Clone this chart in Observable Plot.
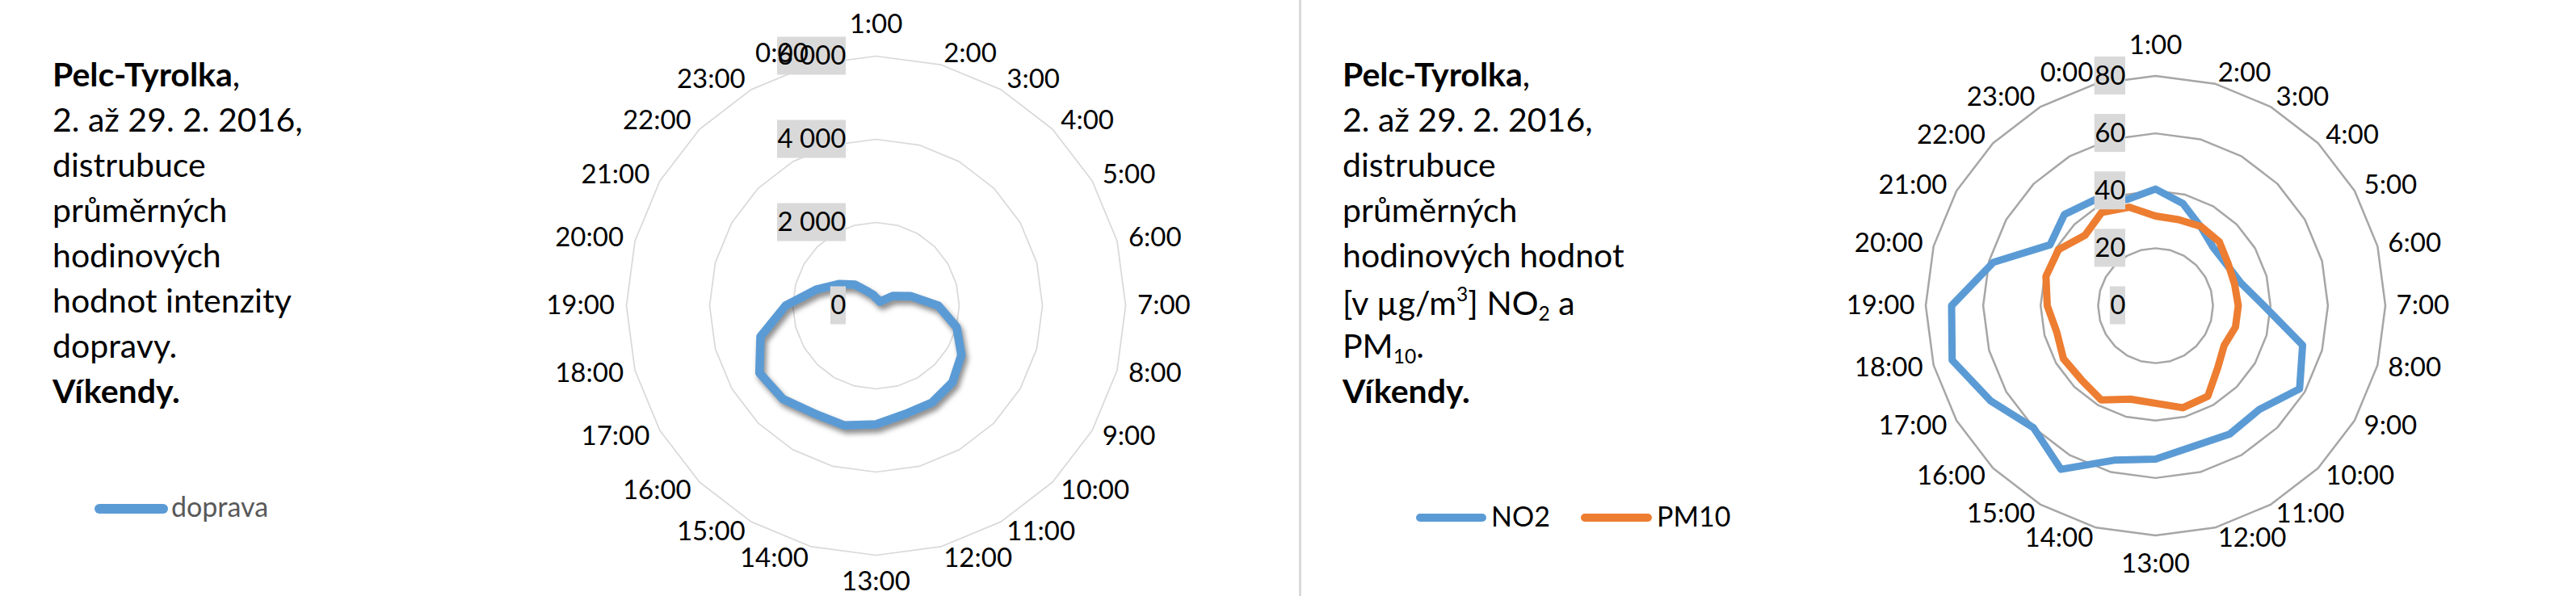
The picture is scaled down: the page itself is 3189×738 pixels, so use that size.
<!DOCTYPE html>
<html><head><meta charset="utf-8">
<script src="https://cdn.jsdelivr.net/npm/d3@7"></script>
<script src="https://cdn.jsdelivr.net/npm/@observablehq/plot@0.6"></script>
<style>
html,body{margin:0;padding:0;background:#fff;}
#page{position:relative;width:3189px;height:738px;overflow:hidden;font-family:Lato,sans-serif;color:#000;background:#fff;}
.blk{position:absolute;left:0;top:0;font-size:41px;}
.ln{position:absolute;white-space:nowrap;line-height:1.2;}
.sup{font-size:0.6em;position:relative;top:-0.7em;}
.sub{font-size:0.6em;position:relative;top:0.3em;}
.chart{position:absolute;top:0;width:900px;height:738px;}
.leg{position:absolute;white-space:nowrap;line-height:1.2;}
.sw{position:absolute;border-radius:99px;}
#divider{position:absolute;left:1608px;top:0;width:3px;height:738px;background:#d9d9d9;}
</style></head>
<body><div id="page">
<div id="divider"></div>
<div id="chart1" class="chart" style="left:634.2px"></div>
<div id="chart2" class="chart" style="left:2217.7px"></div>
</div>
<script>
// ---- data ----
const hours = ["1:00","2:00","3:00","4:00","5:00","6:00","7:00","8:00","9:00","10:00","11:00","12:00","13:00","14:00","15:00","16:00","17:00","18:00","19:00","20:00","21:00","22:00","23:00","0:00"];
const doprava = [188,160,142,136,466,874,1495,2006,2370,2600,2690,2700,2853,2978,2990,3170,3236,2875,2174,1488,1035,712,388,272];
const no2 = [40.6,36.8,31.6,28.5,28.6,30.7,37.7,53,57.9,51.1,51.6,50.7,53.4,55.7,65.8,60.1,66.3,73.3,71,58.4,42.4,44.9,42.5,38.3];
const pm10 = [31.2,31,31.8,31.4,29.2,28.5,28.8,28.8,27.6,30.6,36.4,36.8,34,33.7,37.9,36.5,37,35.6,37.7,39.5,39,34.7,37.5,35.5];
const ticks1 = [0,2000,4000,6000];
const tickLabels1 = ["0","2 000","4 000","6 000"];
const ticks2 = [0,20,40,60,80];
const tickLabels2 = ["0","20","40","60","80"];
const titleLines1 = ["<b>Pelc-Tyrolka</b>,","2. až 29. 2. 2016,","distrubuce","průměrných","hodinových","hodnot intenzity","dopravy.","<b>Víkendy.</b>"];
const titleLines2 = ["<b>Pelc-Tyrolka</b>,","2. až 29. 2. 2016,","distrubuce","průměrných","hodinových hodnot","[v µg/m<span class='sup'>3</span>] NO<span class='sub'>2</span> a","PM<span class='sub'>10</span>.","<b>Víkendy.</b>"];

const page = document.getElementById("page");

// ---- text blocks ----
function block(lines, left) {
  const b = document.createElement("div");
  b.className = "blk";
  lines.forEach((html, i) => {
    const d = document.createElement("div");
    d.className = "ln";
    const base = 107.5 + 56 * i + (html.includes("sup") ? 3 : 0);
    d.style.left = left + "px";
    d.style.top = (base - 0.987 * 41) + "px";
    d.innerHTML = html;
    b.appendChild(d);
  });
  page.appendChild(b);
}
block(titleLines1, 65);
block(titleLines2, 1662);

// ---- legends ----
function legend(items) {
  for (const it of items) {
    const s = document.createElement("div");
    s.className = "sw";
    Object.assign(s.style, {left: it.x1 + "px", top: (it.y - it.t / 2) + "px", width: (it.x2 - it.x1) + "px", height: it.t + "px", background: it.color});
    page.appendChild(s);
    const t = document.createElement("div");
    t.className = "leg";
    Object.assign(t.style, {left: it.tx + "px", top: (it.base - 0.987 * it.fs) + "px", fontSize: it.fs + "px", color: it.tc});
    t.textContent = it.label;
    page.appendChild(t);
  }
}
legend([{label: "doprava", color: "#5b9bd5", x1: 117, x2: 208, y: 630, t: 12, tx: 212, base: 641, fs: 34, tc: "#595959"}]);
legend([
  {label: "NO2", color: "#5b9bd5", x1: 1753, x2: 1840, y: 641, t: 10, tx: 1846, base: 653, fs: 34, tc: "#000"},
  {label: "PM10", color: "#ed7d31", x1: 1957, x2: 2045, y: 641, t: 10, tx: 2051, base: 653, fs: 34, tc: "#000"}
]);

// ---- radar charts ----
const ctx = document.createElement("canvas").getContext("2d");
ctx.font = "33px Lato";

function radar({el, series, ticks, tickLabels, max, R, gridColor, gridWidth, gap, labelGap, bottomDy, shadow}) {
  const r = d3.scaleLinear().domain([0, max]).range([0, R]);
  const n = hours.length;
  const ang = i => i * 2 * Math.PI / n;
  const pt = (v, i) => ({x: r(v) * Math.sin(ang(i)), y: -r(v) * Math.cos(ang(i))});
  const rings = ticks.filter(t => t > 0).flatMap(t => hours.map((h, i) => ({t, ...pt(t, i)})));
  const tickData = ticks.map((t, k) => ({t, label: tickLabels[k], w: ctx.measureText(tickLabels[k]).width}));
  const LR = R + labelGap;
  const cats = hours.map((h, i) => {
    const s = Math.sin(ang(i)), c = Math.cos(ang(i));
    const side = Math.abs(s) < 1e-6 ? (c > 0 ? "top" : "bottom") : (s > 0 ? "right" : "left");
    return {h, x: LR * s, y: -LR * c, side};
  });
  const txt = {fontSize: 33, fontFamily: "Lato, sans-serif", fill: "#000"};
  const marks = [
    Plot.line(rings, {x: "x", y: "y", z: "t", curve: "linear-closed", stroke: gridColor, strokeWidth: gridWidth})
  ];
  for (const s of series) {
    const pts = s.values.map((v, i) => ({name: s.name, ...pt(v, i)}));
    marks.push(Plot.line(pts, {x: "x", y: "y", z: "name", curve: "linear-closed", stroke: s.color, strokeWidth: s.width, strokeLinejoin: "round"}));
  }
  marks.push(
    Plot.rect(tickData, {x1: d => -gap - d.w, x2: d => -gap, y1: d => -r(d.t) - 23.5, y2: d => -r(d.t) + 23.5, fill: "#d9d9d9"}),
    Plot.text(tickData, {x: d => -gap, y: d => -r(d.t), text: "label", textAnchor: "end", ...txt}),
    Plot.text(cats.filter(d => d.side === "right"), {x: "x", y: "y", text: "h", textAnchor: "start", ...txt}),
    Plot.text(cats.filter(d => d.side === "left"), {x: "x", y: "y", text: "h", textAnchor: "end", ...txt}),
    Plot.text(cats.filter(d => d.side === "top"), {x: "x", y: "y", text: "h", lineAnchor: "bottom", dy: -14, ...txt}),
    Plot.text(cats.filter(d => d.side === "bottom"), {x: "x", y: "y", text: "h", lineAnchor: "top", dy: bottomDy, ...txt})
  );
  const svg = Plot.plot({
    width: 900, height: 738, margin: 0,
    x: {domain: [-450, 450], range: [0, 900], axis: null},
    y: {domain: [-378, 360], range: [0, 738], axis: null},
    style: {background: "transparent", overflow: "visible", fontFamily: "Lato, sans-serif"},
    marks
  });
  svg.style.maxWidth = "none";
  document.getElementById(el).appendChild(svg);
  if (shadow) {
    svg.querySelectorAll("path").forEach(p => {
      const g = p.closest("g");
      const sw = (g && g.getAttribute("stroke-width")) || p.getAttribute("stroke-width");
      const st = (g && g.getAttribute("stroke")) || p.getAttribute("stroke");
      if (st === shadow && +sw > 5) p.style.filter = "drop-shadow(3px 5px 3px rgba(0,0,0,0.45))";
    });
  }
}

radar({el: "chart1", series: [{name: "doprava", values: doprava, color: "#5b9bd5", width: 10.5}],
  ticks: ticks1, tickLabels: tickLabels1, max: 6000, R: 309, gridColor: "#d9d9d9", gridWidth: 1.75, gap: 37, labelGap: 14.5, bottomDy: 6, shadow: "#5b9bd5"});
radar({el: "chart2", series: [{name: "NO2", values: no2, color: "#5b9bd5", width: 9}, {name: "PM10", values: pm10, color: "#ed7d31", width: 9}],
  ticks: ticks2, tickLabels: tickLabels2, max: 80, R: 284.5, gridColor: "#a6a6a6", gridWidth: 2.5, gap: 37, labelGap: 13.5, bottomDy: 9, shadow: null});
</script>
</body></html>
